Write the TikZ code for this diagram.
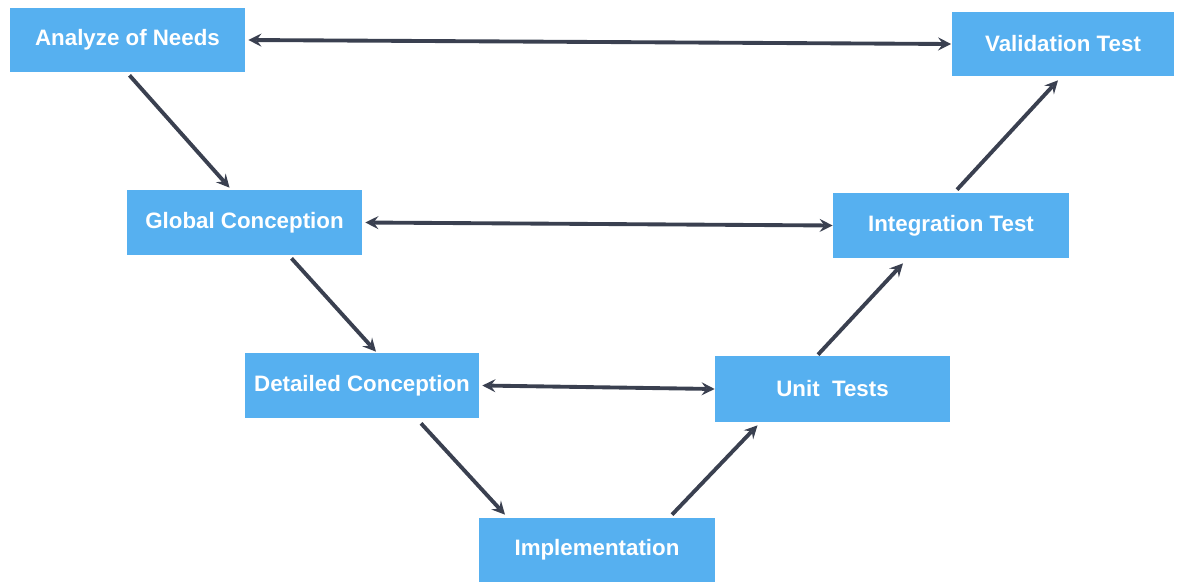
\documentclass[tikz,border=0pt]{standalone}
\usepackage{fontspec}
\setmainfont{Liberation Sans}
\usepackage{tikz}
\usetikzlibrary{calc}
\definecolor{vblue}{RGB}{86,176,240}
\definecolor{vline}{RGB}{58,64,80}
\tikzstyle{box}=[rectangle,fill=vblue,text=white,font=\fontsize{12.7}{15}\selectfont\bfseries,inner sep=0pt]
\tikzstyle{to}=[->,>=stealth,line width=2.2pt,draw=vline]
\tikzstyle{both}=[<->,>=stealth,line width=2.2pt,draw=vline]

\begin{document}
\begin{tikzpicture}[x=0.02cm,y=-0.02cm]
        \useasboundingbox (0,0) rectangle (1184,582);
        \node[box,minimum width=4.7cm,minimum height=1.28cm] (A) at (127.5, 40) {Analyze of Needs};
        \node[box,minimum width=4.7cm,minimum height=1.3cm] (B) at (244.5, 222.5) {Global Conception};
        \node[box,minimum width=4.68cm,minimum height=1.3cm] (C) at (362, 385.5) {Detailed Conception};
        \node[box,minimum width=4.72cm,minimum height=1.28cm] (D) at (597, 550) {Implementation};
        \node[box,minimum width=4.7cm,minimum height=1.32cm] (E) at (832.5, 389) {Unit\ \ Tests};
        \node[box,minimum width=4.72cm,minimum height=1.3cm] (F) at (951, 225.5) {Integration Test};
        \node[box,minimum width=4.46cm,minimum height=1.28cm] (G) at (1063, 44) {Validation Test};

        \draw[both] ($(A.east)+(3,0)$) -- (G.west);
        \draw[both] ($(B.east)+(3,0)$) -- (F.west);
        \draw[both] ($(C.east)+(3,0)$) -- (E.west);

        \draw[to] ($(A.south)+(2,3)$) -- ($(B.north)+(-15,-2)$);
        \draw[to] ($(B.south)+(47,3)$) -- ($(C.north)+(14,-1)$);
        \draw[to] ($(C.south)+(59,5)$) -- ($(D.north)+(-92,-3)$);
        \draw[to] ($(D.north)+(75,-3)$) -- ($(E.south)+(-75,3)$);
        \draw[to] ($(E.north)+(-14.5,-1)$) -- ($(F.south)+(-48,5)$);
        \draw[to] ($(F.north)+(6,-3)$) -- ($(G.south)+(-5,4)$);
    \end{tikzpicture}
\end{document}
